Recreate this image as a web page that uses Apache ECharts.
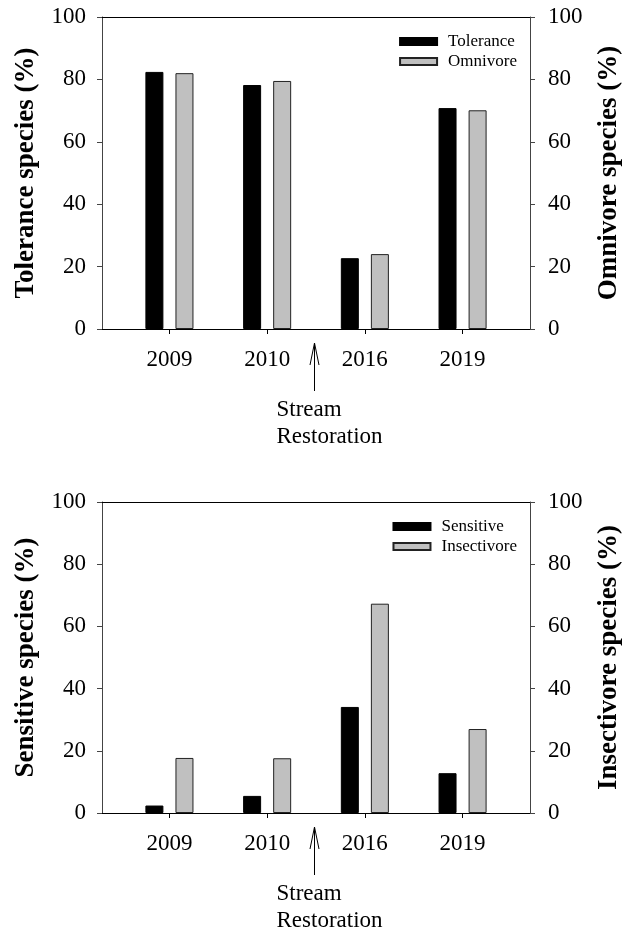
<!DOCTYPE html>
<html><head><meta charset="utf-8">
<script src="https://cdn.jsdelivr.net/npm/echarts@6/dist/echarts.min.js"></script>
<style>html,body{margin:0;padding:0;background:#fff}#c{width:631px;height:935px}</style>
</head><body><div id="c"></div>
<script>
// ---- data ----
const categories = ['2009', '2010', '2016', '2019'];
const tolerance = [82.4, 78.2, 22.7, 70.8];
const omnivore = [82.0, 79.5, 24.0, 70.1];
const sensitive = [2.4, 5.5, 34.1, 12.8];
const insectivore = [17.7, 17.6, 67.3, 27.0];
const yMin = 0, yMax = 100, yStep = 20;
const restorationPos = 1.5; // between 2010 and 2016
const annotationText = ['Stream', 'Restoration'];
const panels = [
  { left: 'Tolerance species (%)', right: 'Omnivore species (%)', s1: 'Tolerance', s2: 'Omnivore', d1: tolerance, d2: omnivore },
  { left: 'Sensitive species (%)', right: 'Insectivore species (%)', s1: 'Sensitive', s2: 'Insectivore', d1: sensitive, d2: insectivore }
];

// ---- layout ----
const FONT = 'Liberation Serif, serif';
const gridTops = [17, 502];
const gridH = [312, 311];
const XMIN = -0.69, XMAX = 3.69;

const chart = echarts.init(document.getElementById('c'), null, { renderer: 'canvas' });
const grid = [], xAxis = [], yAxis = [], series = [], legend = [];
const idx = categories.map((c, i) => i);

panels.forEach((p, g) => {
  grid.push({ left: 102, right: 95, top: gridTops[g], height: gridH[g], containLabel: false });
  xAxis.push({
    type: 'value', gridIndex: g, min: XMIN, max: XMAX, position: 'bottom',
    splitLine: { show: false },
    axisLine: { show: true, onZero: false, lineStyle: { color: '#000', width: 1 } },
    axisTick: { show: true, customValues: idx, length: 5, inside: false, lineStyle: { color: '#000' } },
    axisLabel: { show: true, customValues: idx, margin: 19, fontFamily: FONT, fontSize: 23, color: '#000',
      formatter: v => categories[Math.round(v)] }
  });
  xAxis.push({
    type: 'value', gridIndex: g, min: XMIN, max: XMAX, position: 'top',
    splitLine: { show: false }, axisTick: { show: false }, axisLabel: { show: false },
    axisLine: { show: true, onZero: false, lineStyle: { color: '#000', width: 1 } }
  });
  const yCommon = {
    type: 'value', gridIndex: g, min: yMin, max: yMax, interval: yStep,
    splitLine: { show: false },
    axisLine: { show: true, onZero: false, lineStyle: { color: '#444', width: 1 } },
    axisTick: { show: true, length: 5, lineStyle: { color: '#444' } },
    nameLocation: 'middle', nameRotate: 90,
    nameTextStyle: { fontFamily: FONT, fontSize: 27, fontWeight: 'bold', color: '#000' }
  };
  yAxis.push(Object.assign({}, yCommon, {
    position: 'left', name: p.left, nameGap: 62,
    axisLabel: { margin: 16, fontFamily: FONT, fontSize: 23, color: '#000', padding: [6, 0, 0, 0] }
  }));
  yAxis.push(Object.assign({}, yCommon, {
    position: 'right', name: p.right, nameGap: 66,
    axisLabel: { margin: 18, fontFamily: FONT, fontSize: 23, color: '#000', padding: [6, 0, 0, 0] }
  }));
  series.push({
    type: 'bar', name: p.s1, xAxisIndex: 2 * g, yAxisIndex: 2 * g,
    data: idx.map(i => [i, p.d1[i]]), barWidth: 18, barGap: '67%',
    itemStyle: { color: '#000', borderColor: '#000', borderWidth: 1 }
  });
  series.push({
    type: 'bar', name: p.s2, xAxisIndex: 2 * g, yAxisIndex: 2 * g + 1,
    data: idx.map(i => [i, p.d2[i]]), barWidth: 18, barGap: '67%',
    itemStyle: { color: '#c0c0c0', borderColor: '#222', borderWidth: 1 }
  });
  legend.push({
    data: [p.s1, p.s2], orient: 'vertical', right: 114, top: gridTops[g] + 16, padding: 0,
    align: 'left', itemWidth: 37, itemHeight: 7, itemGap: 3, icon: 'rect',
    textStyle: { fontFamily: FONT, fontSize: 17, color: '#000', lineHeight: 17, padding: [0, 0, 0, 6] }
  });
});

chart.setOption({ animation: false, backgroundColor: '#fff', grid, xAxis, yAxis, series, legend });

// ---- annotation: arrow + "Stream Restoration" ----
const graphic = [];
panels.forEach((p, g) => {
  const x = Math.round(chart.convertToPixel({ xAxisIndex: 2 * g }, restorationPos)) - 2 + 0.5;
  const b = chart.convertToPixel({ yAxisIndex: 2 * g }, 0);
  graphic.push({ type: 'line', shape: { x1: x, y1: b + 14, x2: x, y2: b + 62 }, style: { stroke: '#000', lineWidth: 1 } });
  graphic.push({ type: 'polyline', shape: { points: [[x - 4.5, b + 36], [x, b + 14], [x + 4.5, b + 36]] }, style: { stroke: '#000', lineWidth: 1, fill: null } });
  graphic.push({ type: 'text', x: x - 38, y: b + 67, style: { text: annotationText.join('\n'), fontFamily: FONT, fontSize: 23, lineHeight: 27, fill: '#000', align: 'left', verticalAlign: 'top' } });
});
chart.setOption({ graphic });
</script></body></html>
